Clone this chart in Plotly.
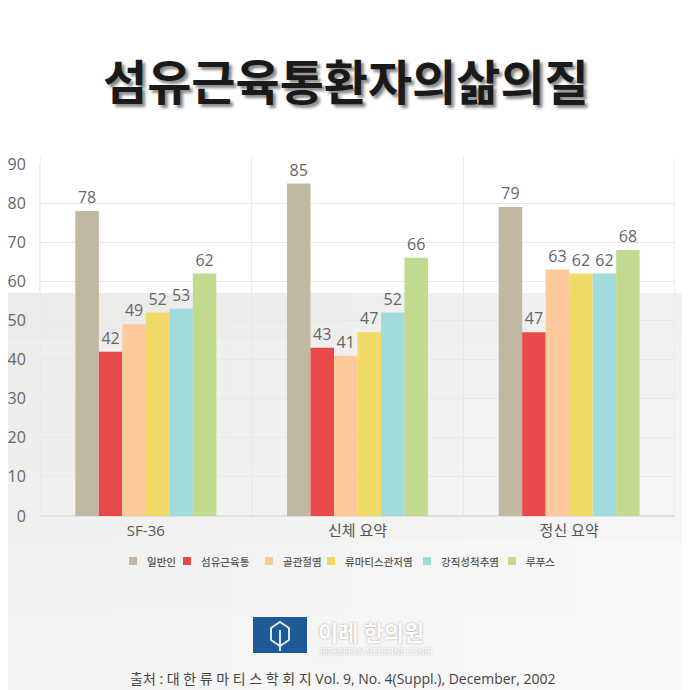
import plotly.graph_objects as go

categories = ["SF-36", "신체 요약", "정신 요약"]
series_names = ["일반인", "섬유근육통", "골관절염", "류마티스관저염", "강직성척추염", "루푸스"]
values_normal = [78, 85, 79]
values_fibro = [42, 43, 47]
values_oa = [49, 41, 63]
values_ra = [52, 47, 62]
values_as = [53, 52, 62]
values_lupus = [62, 66, 68]
y_ticks = [0, 10, 20, 30, 40, 50, 60, 70, 80, 90]

series_values = [values_normal, values_fibro, values_oa, values_ra, values_as, values_lupus]
colors = ["#c0b8a0", "#e84a4c", "#fec99b", "#f1da66", "#a1dbdb", "#c2da90"]

# page body has an 8px margin; the figure starts at (8, 8) on screen
OFF = 8
W, H = 690 - OFF, 690 - OFF
ml, mr, mt, mb = 40 - OFF, 15, 164 - OFF, 174
pw = W - ml - mr
ph = H - mt - mb


def px_x(x):  # screen x -> paper x
    return (x - OFF - ml) / pw


def px_y(y):  # screen y -> paper y
    return (H - mb - (y - OFF)) / ph


fig = go.Figure()
for name, vals, col in zip(series_names, series_values, colors):
    fig.add_trace(go.Bar(
        name=name, x=categories, y=vals, marker=dict(color=col, line=dict(width=0)),
        text=[str(v) for v in vals], textposition="outside",
        textfont=dict(size=16, color="#666666", family="Open Sans, Noto Sans CJK KR"),
        cliponaxis=False, constraintext="none", showlegend=False,
    ))

shapes = []


def mix(c1, c2, t):
    a = [int(c1[i:i + 2], 16) for i in (1, 3, 5)]
    b = [int(c2[i:i + 2], 16) for i in (1, 3, 5)]
    return "#" + "".join(f"{round(a[k] + (b[k] - a[k]) * t):02x}" for k in range(3))


# soft gray gradient in the lower part of the page (darker top-left, lighter bottom-right)
rows = [293, 340, 400, 470, 540, 610, 691]
cols = [0, 115, 230, 345, 460, 575, 691]
for i in range(len(rows) - 1):
    for j in range(len(cols) - 1):
        ty = i / (len(rows) - 2)
        tx = j / (len(cols) - 2)
        left = mix("#ebebe9", "#f3f3f2", ty)
        right = mix("#f1f1f0", "#f8f8f8", ty)
        c = mix(left, right, tx)
        shapes.append(dict(type="rect", xref="paper", yref="paper", layer="below",
                           x0=px_x(cols[j]), x1=px_x(cols[j + 1]),
                           y0=px_y(rows[i + 1]), y1=px_y(rows[i]),
                           fillcolor=c, line=dict(width=0)))

# vertical separators between groups
for xv in [-0.5, 0.5, 1.5, 2.5]:
    shapes.append(dict(type="line", xref="x", yref="paper", x0=xv, x1=xv, y0=0, y1=px_y(157),
                       line=dict(color="#e6e6e6", width=1), layer="below"))

annotations = []

# legend (square swatch + label per series)
legend_left = [129, 183, 265, 327, 423, 508]
for name, col, lx in zip(series_names, colors, legend_left):
    shapes.append(dict(type="rect", xref="paper", yref="paper",
                       x0=px_x(lx), x1=px_x(lx + 8), y0=px_y(565), y1=px_y(557),
                       fillcolor=col, line=dict(width=0)))
    annotations.append(dict(text=name, xref="paper", yref="paper", x=px_x(lx + 16), y=px_y(561),
                            showarrow=False, xanchor="left", yanchor="middle",
                            font=dict(size=10.5, color="#555555", family="Noto Sans CJK KR",
                                      weight=500)))

# logo box
shapes.append(dict(type="rect", xref="paper", yref="paper",
                   x0=px_x(253), x1=px_x(307), y0=px_y(653), y1=px_y(617),
                   fillcolor="#1e5a96", line=dict(width=0)))
icon = [(280, 622), (289, 628), (289, 640), (280, 646), (271, 640), (271, 628)]
path = "M " + " L ".join(f"{px_x(x)},{px_y(y)}" for x, y in icon) + " Z"
shapes.append(dict(type="path", xref="paper", yref="paper", path=path,
                   line=dict(color="#dfe8f2", width=2), fillcolor="rgba(0,0,0,0)"))
shapes.append(dict(type="line", xref="paper", yref="paper",
                   x0=px_x(280), x1=px_x(280), y0=px_y(651), y1=px_y(630),
                   line=dict(color="#dfe8f2", width=2)))

annotations += [
    dict(text="섬유근육통환자의삶의질", xref="paper", yref="paper",
         x=px_x(346), y=px_y(79), showarrow=False, xanchor="center", yanchor="middle",
         font=dict(size=48, color="#1a1a1a", family="Noto Sans CJK KR", weight="bold",
                   shadow="3px 3px 3px #8a8a8a")),
    dict(text="이레 한의원", xref="paper", yref="paper", x=px_x(316), y=px_y(631),
         showarrow=False, xanchor="left", yanchor="middle",
         font=dict(size=22, color="#ffffff", family="Noto Sans CJK KR", weight="bold",
                   shadow="0px 0px 2px #999999")),
    dict(text="IREKOREAN MEDICINE CLINIC", xref="paper", yref="paper", x=px_x(318), y=px_y(651),
         showarrow=False, xanchor="left", yanchor="middle",
         font=dict(size=8, color="#ffffff", family="Noto Sans", shadow="0px 0px 2px #999999")),
    dict(text="출처 : 대 한 류 마 티 스 학 회 지 Vol. 9, No. 4(Suppl.), December, 2002",
         xref="paper", yref="paper", x=px_x(343), y=px_y(678), showarrow=False,
         xanchor="center", yanchor="middle",
         font=dict(size=14, color="#444444", family="Open Sans, Noto Sans CJK KR")),
]

fig.update_layout(
    width=W, height=H,
    margin=dict(l=ml, r=mr, t=mt, b=mb, pad=0),
    paper_bgcolor="#ffffff", plot_bgcolor="rgba(0,0,0,0)",
    barmode="group", bargap=0.334, bargroupgap=0,
    shapes=shapes, annotations=annotations,
    showlegend=False,
    xaxis=dict(range=[-0.5, 2.5], showgrid=False, zeroline=False, showline=False,
               automargin=False,
               tickfont=dict(size=15, color="#555555", family="Open Sans, Noto Sans CJK KR"),
               ticks="", ticklabelstandoff=4),
    yaxis=dict(range=[0, 90], tickvals=y_ticks, showgrid=True, gridcolor="#e8e8e8",
               gridwidth=1, zeroline=True, zerolinecolor="#e0e0e0", showline=True,
               linecolor="#eeeeee", linewidth=1, automargin=False,
               tickfont=dict(size=16, color="#666666", family="Open Sans"),
               ticks="", ticklabelstandoff=10),
)

fig.write_html("out.html")
